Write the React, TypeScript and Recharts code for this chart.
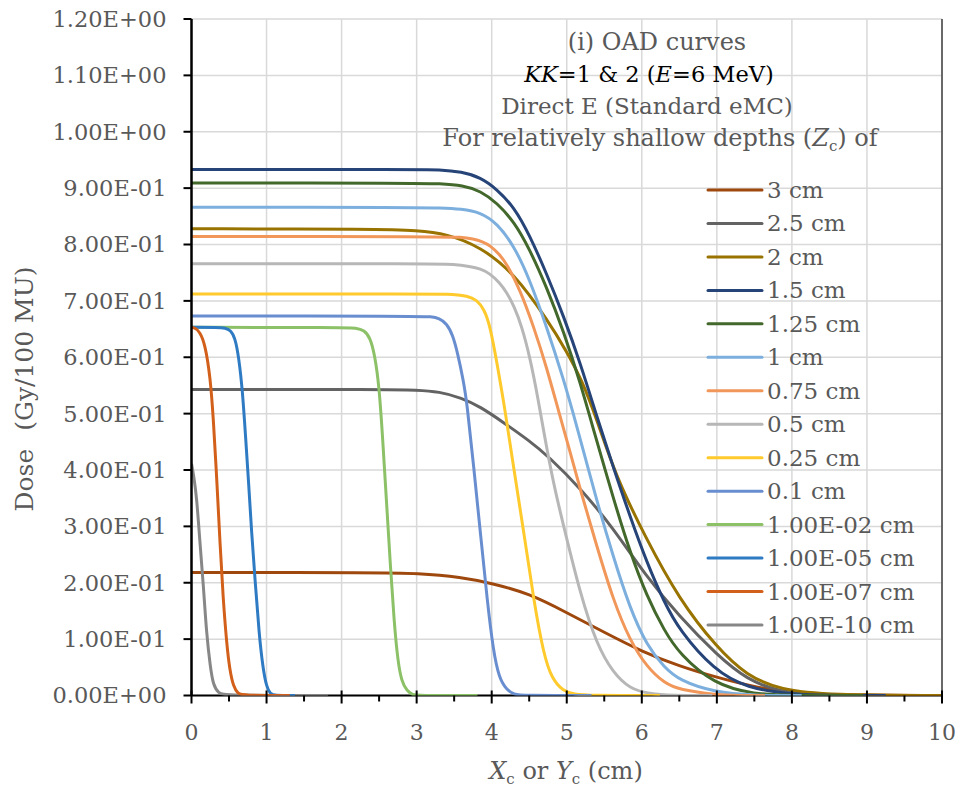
import React from "react";
import {
  LineChart,
  Line,
  XAxis,
  YAxis,
  CartesianGrid,
  ReferenceLine,
} from "recharts";

type Pt = [number, number];

// off-axis dose (Gy/100 MU) vs Xc or Yc (cm), one array per depth Zc
const depth3cm: Pt[] = [
  [0, 0.218], [2.5, 0.218], [3.0, 0.217], [3.6, 0.21], [4.0, 0.199], [4.5, 0.181],
  [5.0, 0.147], [5.5, 0.112], [6.0, 0.078], [6.5, 0.052], [7.0, 0.032], [7.5, 0.015],
  [8.0, 0.005], [8.5, 0.001], [10, 0],
];
const depth2_5cm: Pt[] = [
  [0, 0.543], [2.6, 0.543], [3.0, 0.542], [3.3, 0.539], [3.6, 0.528], [3.85, 0.512],
  [4.15, 0.485], [4.5, 0.452], [4.75, 0.425], [5.2, 0.365], [5.6, 0.3], [6.05, 0.213],
  [6.5, 0.14], [7.0, 0.072], [7.4, 0.028], [7.85, 0.006], [8.3, 0.001], [9.0, 0],
];
const depth2cm: Pt[] = [
  [0, 0.828], [2.5, 0.827], [3.0, 0.825], [3.4, 0.819], [3.85, 0.796], [4.3, 0.749],
  [4.75, 0.665], [5.0, 0.61], [5.2, 0.56], [5.4, 0.49], [5.65, 0.39], [6.05, 0.28],
  [6.5, 0.17], [7.0, 0.085], [7.4, 0.035], [7.85, 0.01], [8.5, 0.001], [10, 0],
];
const depth1_5cm: Pt[] = [
  [0, 0.933], [3.0, 0.933], [3.3, 0.933], [3.6, 0.929], [3.85, 0.919], [4.07, 0.898],
  [4.3, 0.866], [4.5, 0.818], [4.73, 0.749], [4.96, 0.672], [5.18, 0.59], [5.4, 0.495],
  [5.62, 0.405], [5.85, 0.315], [6.07, 0.235], [6.3, 0.165], [6.5, 0.116], [6.96, 0.045],
  [7.4, 0.013], [8.0, 0.002], [8.5, 0], [9.25, 0],
];
const depth1_25cm: Pt[] = [
  [0, 0.909], [3.0, 0.909], [3.3, 0.908], [3.62, 0.905], [3.85, 0.895], [4.07, 0.874],
  [4.3, 0.84], [4.5, 0.793], [4.73, 0.725], [4.96, 0.645], [5.18, 0.555], [5.36, 0.47],
  [5.62, 0.35], [5.84, 0.255], [6.07, 0.175], [6.3, 0.115], [6.5, 0.074], [6.96, 0.02],
  [7.5, 0.002], [8.0, 0], [8.95, 0],
];
const depth1cm: Pt[] = [
  [0, 0.866], [3.0, 0.866], [3.3, 0.865], [3.6, 0.863], [3.85, 0.857], [4.07, 0.838],
  [4.3, 0.797], [4.5, 0.74], [4.73, 0.655], [4.96, 0.56], [5.13, 0.48], [5.4, 0.345],
  [5.62, 0.246], [5.84, 0.155], [6.07, 0.088], [6.3, 0.05], [6.5, 0.027], [6.96, 0.006],
  [7.5, 0], [8.13, 0],
];
const depth0_75cm: Pt[] = [
  [0, 0.814], [3.3, 0.814], [3.6, 0.813], [3.75, 0.81], [3.88, 0.805], [3.98, 0.798],
  [4.1, 0.783], [4.2, 0.766], [4.38, 0.719], [4.56, 0.654], [4.73, 0.583], [4.9, 0.5],
  [5.05, 0.43], [5.18, 0.365], [5.4, 0.265], [5.62, 0.169], [5.84, 0.098], [6.07, 0.05],
  [6.3, 0.022], [6.5, 0.01], [7.0, 0.001], [7.3, 0], [7.64, 0],
];
const depth0_5cm: Pt[] = [
  [0, 0.766], [3.2, 0.766], [3.5, 0.765], [3.71, 0.761], [3.85, 0.757], [3.98, 0.748],
  [4.1, 0.733], [4.2, 0.715], [4.3, 0.69], [4.4, 0.655], [4.51, 0.6], [4.62, 0.525],
  [4.73, 0.44], [4.85, 0.36], [4.96, 0.3], [5.18, 0.18], [5.4, 0.09], [5.62, 0.04],
  [5.84, 0.012], [6.1, 0.003], [6.4, 0], [6.94, 0],
];
const depth0_25cm: Pt[] = [
  [0, 0.712], [3.2, 0.712], [3.5, 0.712], [3.67, 0.709], [3.8, 0.702], [3.9, 0.685],
  [3.98, 0.655], [4.07, 0.59], [4.18, 0.505], [4.29, 0.406], [4.43, 0.288], [4.56, 0.169],
  [4.69, 0.074], [4.8, 0.03], [4.95, 0.008], [5.1, 0.002], [5.3, 0], [6.24, 0],
];
const depth0_1cm: Pt[] = [
  [0, 0.673], [3.0, 0.673], [3.2, 0.672], [3.3, 0.669], [3.4, 0.66], [3.48, 0.64],
  [3.55, 0.605], [3.62, 0.56], [3.67, 0.52], [3.76, 0.406], [3.85, 0.288], [3.94, 0.169],
  [4.02, 0.08], [4.1, 0.03], [4.2, 0.01], [4.3, 0.002], [4.4, 0], [5.33, 0],
];
const depth1e2cm: Pt[] = [
  [0, 0.653], [2.0, 0.653], [2.2, 0.652], [2.3, 0.648], [2.38, 0.635], [2.44, 0.605],
  [2.5, 0.55], [2.55, 0.45], [2.6, 0.34], [2.65, 0.23], [2.7, 0.13], [2.75, 0.06],
  [2.8, 0.025], [2.87, 0.008], [2.95, 0.001], [3.0, 0], [3.81, 0],
];
const depth1e5cm: Pt[] = [
  [0, 0.653], [0.35, 0.653], [0.45, 0.652], [0.52, 0.648], [0.58, 0.635], [0.63, 0.6],
  [0.68, 0.54], [0.72, 0.46], [0.76, 0.38], [0.8, 0.29], [0.85, 0.2], [0.9, 0.11],
  [0.95, 0.05], [1.0, 0.015], [1.05, 0.003], [1.1, 0], [1.38, 0],
];
const depth1e7cm: Pt[] = [
  [0, 0.653], [0.05, 0.652], [0.11, 0.645], [0.18, 0.624], [0.25, 0.565], [0.29, 0.494],
  [0.34, 0.376], [0.38, 0.27], [0.42, 0.174], [0.47, 0.09], [0.51, 0.045], [0.56, 0.015],
  [0.62, 0.003], [0.68, 0], [1.31, 0],
];
const depth1e10cm: Pt[] = [
  [0, 0.411], [0.03, 0.39], [0.07, 0.35], [0.11, 0.275], [0.16, 0.193], [0.2, 0.11],
  [0.25, 0.051], [0.29, 0.018], [0.36, 0.004], [0.45, 0], [1.82, 0],
];

const seriesNames = [
  "3 cm", "2.5 cm", "2 cm", "1.5 cm", "1.25 cm", "1 cm", "0.75 cm", "0.5 cm",
  "0.25 cm", "0.1 cm", "1.00E-02 cm", "1.00E-05 cm", "1.00E-07 cm", "1.00E-10 cm",
];
const seriesData = [
  depth3cm, depth2_5cm, depth2cm, depth1_5cm, depth1_25cm, depth1cm, depth0_75cm,
  depth0_5cm, depth0_25cm, depth0_1cm, depth1e2cm, depth1e5cm, depth1e7cm, depth1e10cm,
];
const seriesColors = [
  "#9E480E", "#636363", "#997300", "#264478", "#43682B", "#7CAFDD", "#F1975A",
  "#B7B7B7", "#FFCA2C", "#698ED0", "#8CC168", "#2E7BC4", "#D3601A", "#878787",
];
// the three shallowest curves overlap on the baseline: draw 1e-10 under the others
const drawOrder = [0, 1, 2, 3, 4, 5, 6, 7, 8, 9, 10, 13, 11, 12];

const xTicks = [0, 1, 2, 3, 4, 5, 6, 7, 8, 9, 10];
const yTicks = [0, 0.1, 0.2, 0.3, 0.4, 0.5, 0.6, 0.7, 0.8, 0.9, 1.0, 1.1, 1.2];

const FONT = "'DejaVu Serif', 'Liberation Serif', serif";
const GREY_TEXT = "#595959";
const HALF_STEP = 37.5; // half of one x unit, for the minor tick marks

const fmtExp = (v: number) => {
  const [m, e] = v.toExponential(2).split("e");
  const sign = e[0] === "-" ? "-" : "+";
  const digits = e.replace(/[+-]/, "").padStart(2, "0");
  return `${m}E${sign}${digits}`;
};

const XTick = (props: any) => {
  const { x, y, payload } = props;
  const v = payload.value;
  return (
    <g>
      <line x1={x} x2={x} y1={y - 5} y2={y + 8} stroke="#000" strokeWidth={2} />
      {v < 10 && (
        <line
          x1={x + HALF_STEP}
          x2={x + HALF_STEP}
          y1={y}
          y2={y + 6}
          stroke="#000"
          strokeWidth={2}
        />
      )}
      <text x={x} y={y + 44} textAnchor="middle" fill={GREY_TEXT} fontSize={22} fontFamily={FONT}>
        {v}
      </text>
    </g>
  );
};

const App: React.FC = () => {
  return (
    <div style={{ position: "absolute", left: 0, top: 0, width: 961, height: 792, background: "#fff" }}>
      <LineChart width={961} height={792} margin={{ top: 19, right: 19, bottom: 0, left: 0 }}>
        <CartesianGrid stroke="#D9D9D9" strokeWidth={1.5} />
        <XAxis
          dataKey="x"
          type="number"
          domain={[0, 10]}
          ticks={xTicks}
          interval={0}
          height={96.5}
          tickSize={0}
          tickMargin={0}
          tickLine={false}
          tick={<XTick />}
          axisLine={false}
          allowDataOverflow
        />
        <YAxis
          type="number"
          domain={[0, 1.2]}
          ticks={yTicks}
          interval={0}
          width={191.5}
          tickSize={8}
          tickMargin={17}
          tickFormatter={fmtExp}
          tick={{ fill: GREY_TEXT, fontSize: 22.5, fontFamily: FONT }}
          tickLine={{ stroke: "#000", strokeWidth: 2 }}
          axisLine={{ stroke: "#000", strokeWidth: 2.5 }}
          allowDataOverflow
        />
        <ReferenceLine x={10} stroke="#404040" strokeWidth={1.5} />
        <ReferenceLine y={0} stroke="#000" strokeWidth={2} />
        {drawOrder.map((i) => (
          <Line
            key={seriesNames[i]}
            name={seriesNames[i]}
            data={seriesData[i].map(([x, y]) => ({ x, y }))}
            dataKey="y"
            type="basis"
            stroke={seriesColors[i]}
            strokeWidth={3}
            dot={false}
            activeDot={false}
            isAnimationActive={false}
          />
        ))}
      </LineChart>
      <svg
        width={961}
        height={792}
        style={{ position: "absolute", left: 0, top: 0, pointerEvents: "none" }}
        fontFamily={FONT}
        fontSize={24}
      >
        <text x={657} y={50} textAnchor="middle" fill={GREY_TEXT}>
          (i) OAD curves
        </text>
        <text x={649} y={82} textAnchor="middle" fill="#000" fontSize={22.5}>
          <tspan fontStyle="italic">KK</tspan>
          <tspan>=1 &amp; 2 (</tspan>
          <tspan fontStyle="italic">E</tspan>
          <tspan>=6 MeV)</tspan>
        </text>
        <text x={647} y={114} textAnchor="middle" fill={GREY_TEXT} fontSize={23}>
          Direct E (Standard eMC)
        </text>
        <text x={660} y={146} textAnchor="middle" fill={GREY_TEXT}>
          <tspan>For relatively shallow depths (</tspan>
          <tspan fontStyle="italic">Z</tspan>
          <tspan fontSize={15} dy={5}>c</tspan>
          <tspan dy={-5}>) of</tspan>
        </text>
        <text x={566} y={779} textAnchor="middle" fill={GREY_TEXT}>
          <tspan fontStyle="italic">X</tspan>
          <tspan fontSize={15} dy={5}>c</tspan>
          <tspan dy={-5}> or </tspan>
          <tspan fontStyle="italic">Y</tspan>
          <tspan fontSize={15} dy={5}>c</tspan>
          <tspan dy={-5}> (cm)</tspan>
        </text>
        <text x={33} y={389} textAnchor="middle" fill={GREY_TEXT} fontSize={25} transform="rotate(-90 33 389)">
          <tspan>Dose</tspan>
          <tspan dx={18}>(Gy/100 MU)</tspan>
        </text>
        {seriesNames.map((name, i) => {
          const cy = 190 + i * 33.46;
          return (
            <g key={name}>
              <line x1={708} x2={762} y1={cy} y2={cy} stroke={seriesColors[i]} strokeWidth={3} strokeLinecap="round" />
              <text x={767} y={cy + 8} fill={GREY_TEXT} fontSize={23}>
                {name}
              </text>
            </g>
          );
        })}
      </svg>
    </div>
  );
};

export default App;
